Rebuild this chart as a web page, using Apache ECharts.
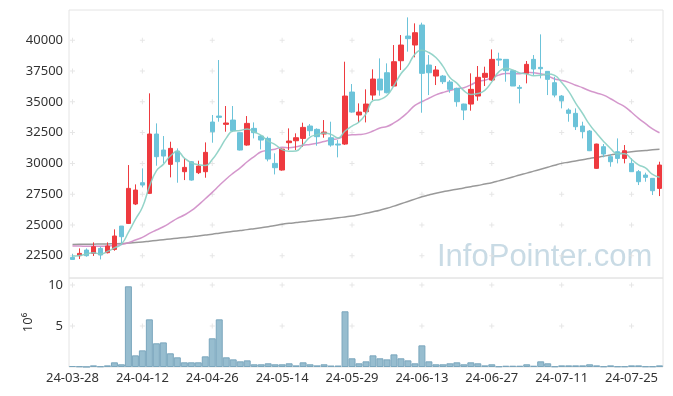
<!DOCTYPE html>
<html><head><meta charset="utf-8">
<script src="https://cdn.jsdelivr.net/npm/echarts@6/dist/echarts.min.js"></script>
<style>html,body{margin:0;padding:0;background:#fff}#c{width:673px;height:396px}</style>
</head><body><div id="c"></div>
<script>
const dates = ['24-03-28','24-03-29','24-04-01','24-04-02','24-04-03','24-04-04','24-04-05','24-04-08','24-04-09','24-04-11',
'24-04-12','24-04-15','24-04-16','24-04-17','24-04-18','24-04-19','24-04-22','24-04-23','24-04-24','24-04-25',
'24-04-26','24-04-29','24-04-30','24-05-02','24-05-03','24-05-07','24-05-08','24-05-09','24-05-10','24-05-13',
'24-05-14','24-05-16','24-05-17','24-05-20','24-05-21','24-05-22','24-05-23','24-05-24','24-05-27','24-05-28',
'24-05-29','24-05-30','24-05-31','24-06-03','24-06-04','24-06-05','24-06-07','24-06-10','24-06-11','24-06-12',
'24-06-13','24-06-14','24-06-17','24-06-18','24-06-19','24-06-20','24-06-21','24-06-24','24-06-25','24-06-26',
'24-06-27','24-06-28','24-07-01','24-07-02','24-07-03','24-07-04','24-07-05','24-07-08','24-07-09','24-07-10',
'24-07-11','24-07-12','24-07-15','24-07-16','24-07-17','24-07-18','24-07-19','24-07-22','24-07-23','24-07-24',
'24-07-25','24-07-26','24-07-29','24-07-30','24-07-31'];

const opens = [22365,22500,22960,22690,23095,22745,23015,24910,25125,26700,
28430,27565,32385,31085,29920,31005,29325,30135,29245,29325,
33360,33845,33170,33520,32495,31490,32845,32220,32030,30000,
29460,31680,31840,32030,33035,32765,32385,32085,31570,31570,
35795,33930,34200,35550,36850,37365,36285,38340,40345,39615,
41240,37990,37095,37095,36610,36095,34820,34820,35470,36990,
36770,38475,38450,37530,36175,37315,38450,37800,37475,36555,
35470,34335,34065,33035,32630,29595,31355,30545,30950,30405,
30000,29325,29055,28785,27970];

const closes = [22200,22690,22500,23230,22555,23285,24100,24045,27970,27835,
28240,32385,30545,30595,31220,30135,29675,28645,29785,30895,
32575,33740,33280,32655,31085,33250,32495,31895,30355,29650,
31165,31815,32085,32925,32655,32170,32545,31490,31490,35470,
34170,34170,34820,36850,35960,35740,38260,39615,40130,40615,
37315,37365,37585,36635,36015,35010,34335,36015,36990,37315,
38450,38395,37530,36285,36095,38045,37665,37690,36825,35550,
35090,34065,32980,32575,31030,31570,30760,30135,30405,31030,
29325,28510,28865,27780,29865];

const lows = [22200,22230,22420,22475,22200,22690,22905,23365,25075,26615,
28050,27510,29810,30000,28865,28430,28645,28595,29135,28835,
31680,33385,32575,32575,31050,31435,32030,31140,30165,29105,
29405,31085,31085,31355,32220,31435,32085,31355,30490,31500,
34115,33305,33330,35145,35500,35690,36230,37585,39075,38615,
34115,35550,36365,36445,35740,34605,33520,34280,35090,36285,
36700,37910,36635,36285,34875,36500,37175,36905,35550,35365,
34470,33385,32710,32030,31000,29550,30490,29730,30000,30000,
29300,28240,28510,27430,27345];

const highs = [22635,23095,23095,23585,23230,23585,24640,24910,29865,28295,
29595,35690,33250,32220,31760,31220,30405,30190,30220,31705,
33930,38395,34660,34660,32520,33845,33330,32305,32170,30815,
31220,32845,32440,33305,33195,32845,33520,33385,31895,38260,
36445,34875,36015,37640,38530,38125,39615,40425,41860,41375,
41430,38800,37910,37175,36770,36150,34850,37315,37910,37855,
39260,38990,38450,37530,36365,38315,38800,40480,37475,37040,
35550,34470,34470,33385,32710,31600,31570,30760,32030,31490,
30405,29460,29245,28800,30135];

// trading volume, millions of shares
const volumes = [0.12,0.08,0.02,0.2,0.08,0.2,0.57,0.33,9.84,1.42,
2.03,5.81,2.89,3.0,1.67,1.18,0.57,0.57,0.57,1.3,
3.5,5.81,1.18,0.93,0.69,0.81,0.33,0.33,0.45,0.33,
0.33,0.45,0.2,0.57,0.33,0.2,0.33,0.18,0.18,6.79,
1.06,0.45,0.69,1.42,1.06,0.93,1.54,1.06,0.81,0.45,
2.64,0.69,0.33,0.33,0.45,0.57,0.33,0.57,0.45,0.2,
0.33,0.08,0.16,0.16,0.16,0.33,0.16,0.69,0.45,0.08,
0.2,0.2,0.2,0.2,0.33,0.2,0.08,0.2,0.08,0.08,
0.2,0.2,0.08,0.08,0.2];

// moving-average values before enough closes are visible
const ma5Head = [22475,22525,22635,22745];
const ma20Head = [23285,23280,23275,23270,23270,23285,23330,23420,23555,23775,
23990,24315,24585,24855,25180,25535,25805,26155,26615];
// long-term moving average
const maLong = [23420,23425,23430,23440,23450,23460,23475,23495,23530,23570,
23620,23680,23740,23800,23860,23920,23980,24040,24110,24180,
24250,24330,24410,24480,24550,24620,24700,24780,24860,24960,
25060,25130,25190,25250,25320,25380,25440,25510,25580,25650,
25720,25830,25950,26070,26200,26350,26530,26720,26910,27100,
27290,27430,27570,27700,27800,27900,28000,28110,28210,28320,
28430,28580,28740,28900,29060,29210,29370,29530,29690,29850,
30000,30100,30200,30300,30400,30490,30580,30680,30770,30860,
30950,31000,31050,31100,31140];

const priceTicks = [22500,25000,27500,30000,32500,35000,37500,40000];
const volTicks = [5,10];
const labelEvery = 10;

function movingAvg(n, head) {
  return closes.map((c, i) => {
    if (i < head.length) return head[i];
    let s = 0;
    for (let k = i - n + 1; k <= i; k++) s += closes[k];
    return Math.round(s / n);
  });
}
const ma5 = movingAvg(5, ma5Head);
const ma20 = movingAvg(20, ma20Head);

const labelIdx = dates.map((d, i) => i).filter(i => i % labelEvery === 0);
const crossPrice = [], crossVol = [];
labelIdx.forEach(i => {
  priceTicks.forEach(v => crossPrice.push([dates[i], v]));
  volTicks.forEach(v => crossVol.push([dates[i], v]));
});

const UP = '#ee3a3f', DOWN = '#6cc3d9';
const font = 'Noto Sans';
const plus = 'path://M2,0H3V2H5V3H3V5H2V3H0V2H2Z';
const plain = v => String(v);

const chart = echarts.init(document.getElementById('c'), null, {renderer: 'canvas'});
chart.setOption({
  animation: false,
  backgroundColor: '#fff',
  textStyle: {fontFamily: font},
  grid: [
    {left: 69, right: 10, top: 10, height: 268, show: true, borderColor: '#e4e4e4', borderWidth: 1},
    {left: 69, right: 10, top: 278, height: 89, show: true, borderColor: '#e4e4e4', borderWidth: 1}
  ],
  graphic: [{
    type: 'text', left: 437, top: 242, z: 0, silent: true,
    style: {text: 'InfoPointer.com', font: '31px "Liberation Sans"', fill: '#c9dbe5'}
  }],
  xAxis: [
    {type: 'category', gridIndex: 0, data: dates, boundaryGap: true,
     axisLine: {show: false}, axisTick: {show: false}, axisLabel: {show: false}, splitLine: {show: false}},
    {type: 'category', gridIndex: 1, data: dates, boundaryGap: true,
     axisLine: {show: false}, axisTick: {show: false}, splitLine: {show: false},
     axisLabel: {interval: labelEvery - 1, fontSize: 13, color: '#333', margin: 5, fontFamily: font}}
  ],
  yAxis: [
    {type: 'value', gridIndex: 0, min: 20690, max: 42460, scale: true,
     axisLine: {show: false}, axisTick: {show: false}, splitLine: {show: false},
     axisLabel: {customValues: priceTicks, formatter: plain, fontSize: 13, color: '#333', margin: 6, fontFamily: font}},
    {type: 'value', gridIndex: 1, min: 0, max: 10.85,
     axisLine: {show: false}, axisTick: {show: false}, splitLine: {show: false},
     axisLabel: {customValues: volTicks, formatter: plain, fontSize: 13, color: '#333', margin: 6, fontFamily: font},
     name: '10⁶', nameLocation: 'middle', nameRotate: 90, nameGap: 34,
     nameTextStyle: {fontSize: 13, color: '#333', fontFamily: font}}
  ],
  series: [
    {type: 'scatter', xAxisIndex: 0, yAxisIndex: 0, data: crossPrice, symbol: plus, symbolSize: 5,
     itemStyle: {color: '#e0e0e0'}, silent: true, z: 1},
    {type: 'scatter', xAxisIndex: 1, yAxisIndex: 1, data: crossVol, symbol: plus, symbolSize: 5,
     itemStyle: {color: '#e0e0e0'}, silent: true, z: 1},
    {type: 'line', name: 'MA60', xAxisIndex: 0, yAxisIndex: 0, data: maLong, smooth: true, showSymbol: false,
     lineStyle: {color: '#8e8e8e', width: 1.5, opacity: 0.9}, z: 3},
    {type: 'line', name: 'MA20', xAxisIndex: 0, yAxisIndex: 0, data: ma20, smooth: true, showSymbol: false,
     lineStyle: {color: '#cf8cc6', width: 1.5, opacity: 0.9}, z: 3},
    {type: 'candlestick', xAxisIndex: 0, yAxisIndex: 0, barWidth: 5,
     data: dates.map((d, i) => [opens[i], closes[i], lows[i], highs[i]]),
     itemStyle: {color: UP, color0: DOWN, borderColor: UP, borderColor0: DOWN, borderWidth: 1}, z: 4},
    {type: 'line', name: 'MA5', xAxisIndex: 0, yAxisIndex: 0, data: ma5, smooth: true, showSymbol: false,
     lineStyle: {color: '#88cfc3', width: 1.5, opacity: 0.9}, z: 5},
    {type: 'bar', xAxisIndex: 1, yAxisIndex: 1, data: volumes, barCategoryGap: '0%',
     itemStyle: {color: 'rgba(133,177,199,0.85)', borderColor: '#7aa6bd', borderWidth: 1}, z: 2}
  ]
});
</script></body></html>
